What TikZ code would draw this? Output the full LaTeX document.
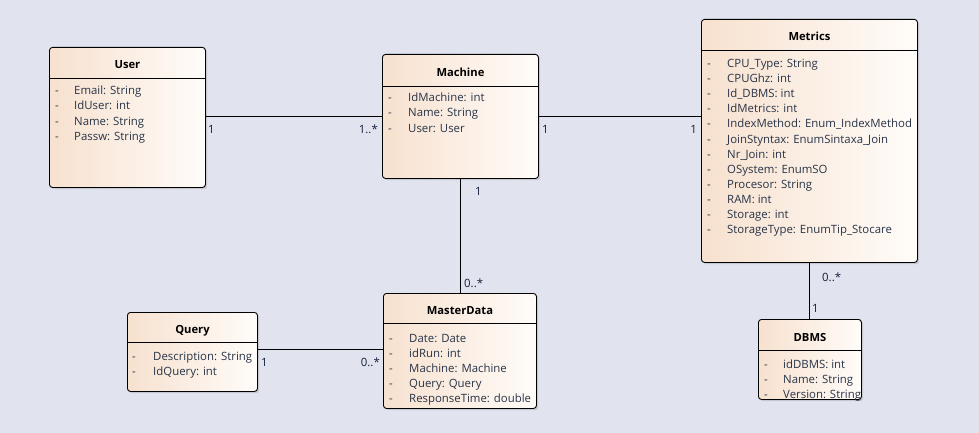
\documentclass[tikz,border=0pt]{standalone}
\usepackage{fontspec}
\setmainfont{Open Sans}
\usetikzlibrary{calc}
\definecolor{bg}{RGB}{225,228,238}
\definecolor{peach}{RGB}{247,225,207}
\definecolor{cream}{RGB}{255,252,249}
\definecolor{attrtext}{RGB}{40,52,72}
\definecolor{labeltext}{RGB}{20,30,60}
\tikzset{
  classbox/.style={draw=black, line width=0.9pt, rounded corners=3pt,
    left color=peach, right color=cream, anchor=north west, inner sep=0pt},
  shadowbox/.style={fill=black, opacity=0.12, rounded corners=3pt, anchor=north west, inner sep=0pt},
  title/.style={font=\fontsize{11.2}{13}\selectfont\bfseries, text=black, anchor=base, inner sep=0pt},
  attr/.style={font=\fontsize{11.4}{13}\selectfont, text=attrtext, anchor=base west, inner sep=0pt},
  mult/.style={font=\fontsize{11.4}{13}\selectfont, text=labeltext, inner sep=0pt},
  assoc/.style={draw=black, line width=0.9pt},
  sepline/.style={draw=black, line width=0.8pt}
}
% #1 name, #2 left, #3 top, #4 width, #5 height, #6 separator y, #7 title
\newcommand\umlclass[7]{%
  \node[shadowbox, minimum width=#4, minimum height=#5] at (#2+2,#3+2) {};
  \node[classbox, minimum width=#4, minimum height=#5] (#1) at (#2,#3) {};
  \draw[sepline] (#1.west |- 0,#6) -- (#1.east |- 0,#6);
  \node[title] (#1-title) at ($(#1.north)!0.5!(#1.north |- 0,#6)+(0,6.5)$) {#7};
}
% #1 name, #2 dash x, #3 text x, #4 first baseline, #5 list of attributes
\newcommand\umlattrs[5]{%
  \foreach \a [count=\i from 0] in {#5} {
    \node[attr] (#1-d\i) at (#2,{#4+1+\i*15}) {-};
    \node[attr] (#1-a\i) at (#3,{#4+1+\i*15}) {\a};
  }
}
\begin{document}
\begin{tikzpicture}[x=1pt,y=-1pt]
\fill[bg] (0,0) rectangle (979,433);
\useasboundingbox (0,0) rectangle (979,433);

% classes
\umlclass{user}{49}{47}{156}{140}{78}{User}
\umlattrs{user}{55}{74}{94}{Email: String, IdUser: int, Name: String, Passw: String}

\umlclass{machine}{382}{54}{156}{124}{86}{Machine}
\umlattrs{machine}{388}{408}{101}{IdMachine: int, Name: String, User: User}

\umlclass{metrics}{701}{19}{216}{243}{50}{Metrics}
\umlattrs{metrics}{707}{727}{67}{CPU\_Type: String, CPUGhz: int, Id\_DBMS: int, IdMetrics: int,
  IndexMethod: Enum\_IndexMethod, JoinStyntax: EnumSintaxa\_Join, Nr\_Join: int,
  OSystem: EnumSO, Procesor: String, RAM: int, Storage: int, StorageType: EnumTip\_Stocare}

\umlclass{query}{127}{312}{130}{79}{342}{Query}
\umlattrs{query}{132}{153}{359}{Description: String, IdQuery: int}

\umlclass{master}{383}{293}{153}{115}{323}{MasterData}
\umlattrs{master}{389}{409}{341}{Date: Date, idRun: int, Machine: Machine, Query: Query, ResponseTime: double}

\umlclass{dbms}{758}{319}{103}{80}{350}{DBMS}
\umlattrs{dbms}{764}{783}{367}{idDBMS: int, Name: String, Version: String}

% associations
\draw[assoc] (user.east |- 0,116) -- (machine.west |- 0,116);
\draw[assoc] (machine.east |- 0,116) -- (metrics.west |- 0,116);
\draw[assoc] (machine.south) -- (machine.south |- master.north);
\draw[assoc] (query.east |- 0,349) -- (master.west |- 0,349);
\draw[assoc] (metrics.south) -- (metrics.south |- dbms.north);

% multiplicities
\node[mult, anchor=base west] (m1) at (208,133) {1};
\node[mult, anchor=base east] (m2) at (378,133) {1..*};
\node[mult, anchor=base west] (m3) at (542,133) {1};
\node[mult, anchor=base east] (m4) at (697,133) {1};
\node[mult, anchor=base west] (m5) at (475,195) {1};
\node[mult, anchor=base west] (m6) at (464,287) {0..*};
\node[mult, anchor=base west] (m7) at (261,366) {1};
\node[mult, anchor=base east] (m8) at (380,366) {0..*};
\node[mult, anchor=base west] (m9) at (822,281) {0..*};
\node[mult, anchor=base west] (m10) at (812,312) {1};
\end{tikzpicture}
\end{document}
